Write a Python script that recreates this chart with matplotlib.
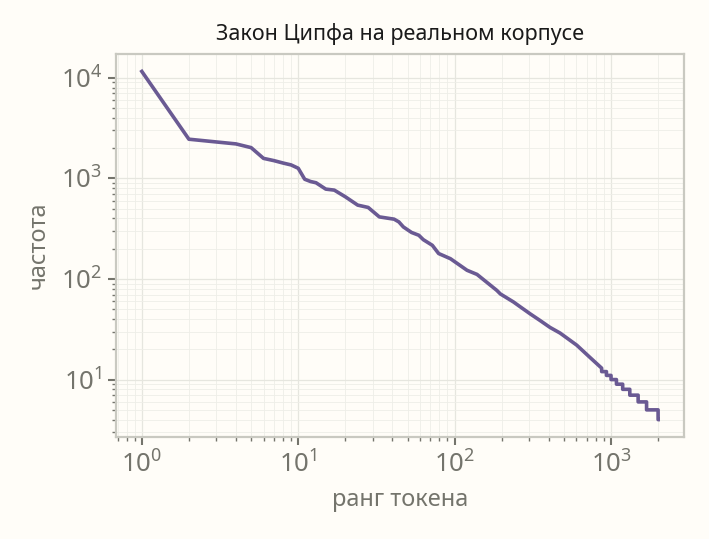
import numpy as np
from matplotlib import pyplot as plt

# ранги и частоты
ranks = [1, 2, 3, 4, 5, 6, 7, 8, 9, 10, 11, 12, 13, 15, 17, 20, 24, 28, 33,
         41, 44, 47, 53, 59, 63, 72, 79, 94, 120, 139, 186, 196, 238, 262,
         304, 352, 407, 472, 603, 733, 870]
freqs = [11560, 2450, 2300, 2200, 2020, 1580, 1500, 1420, 1360, 1260, 980,
         930, 904, 782, 764, 656, 542, 514, 414, 393, 369, 329, 290, 272,
         246, 216, 179, 159, 122, 111, 77, 71, 59, 53, 45, 38.6, 33, 29,
         22, 16.6, 13]

# хвост: ступени одинаковой частоты
step_freq = [12, 11, 10, 9, 8, 7, 6, 5, 4]
step_start = [871, 935, 1000, 1083, 1187, 1318, 1490, 1687, 1999]
step_end = [934, 999, 1082, 1186, 1317, 1489, 1686, 1998, 2000]

BG = '#fffdf8'
GRAY = '#74746c'

plt.rcParams['font.family'] = ['Noto Sans', 'DejaVu Sans']
plt.rcParams['xtick.direction'] = 'out'
plt.rcParams['ytick.direction'] = 'out'

x = list(ranks)
y = list(freqs)
for f, s, e in zip(step_freq, step_start, step_end):
    x += [s, e]
    y += [f, f]

fig = plt.figure(figsize=(7.09, 5.39), dpi=100, facecolor=BG)
ax = fig.add_axes([0.1636, 0.1892, 0.8011, 0.7106], facecolor=BG)

ax.plot(x, y, color='#6a5a93', linewidth=2.6, solid_joinstyle='round')
ax.set_xscale('log')
ax.set_yscale('log')

ax.grid(True, which='major', color='#e6e6df', linewidth=0.9)
ax.grid(True, which='minor', color='#eeeee8', linewidth=0.6)
ax.set_axisbelow(True)

for sp in ax.spines.values():
    sp.set_color('#c9c9c1')
    sp.set_linewidth(1.6)

ax.tick_params(which='major', length=6, width=1.5, color=GRAY,
               labelsize=18.5, labelcolor=GRAY, pad=4)
ax.tick_params(which='minor', length=3, width=1.0, color=GRAY)

ax.set_title('Закон Ципфа на реальном корпусе', fontsize=15.5,
             color='#1a1a1a', pad=10)
ax.set_xlabel('ранг токена', fontsize=17, color=GRAY, labelpad=7)
ax.set_ylabel('частота', fontsize=17, color=GRAY, labelpad=7)

fig.savefig('out.png', dpi=100, facecolor=BG)
